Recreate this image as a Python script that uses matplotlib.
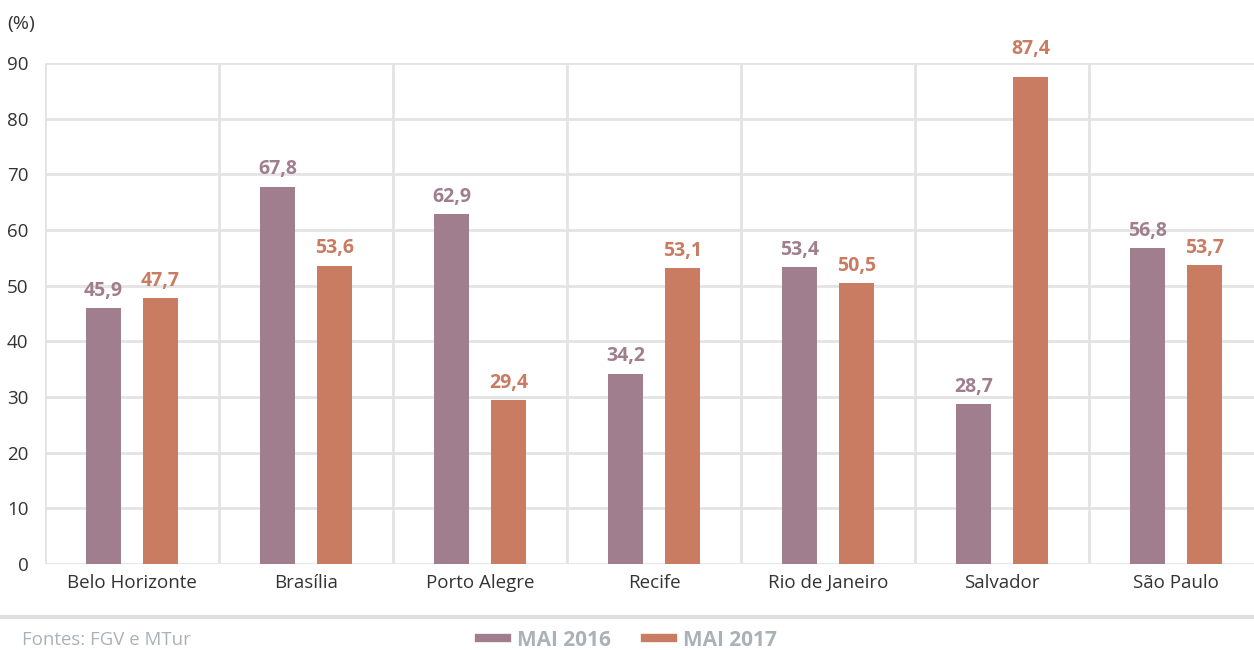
import matplotlib
matplotlib.use("Agg")
import matplotlib.pyplot as plt
from matplotlib.lines import Line2D
import numpy as np

cities = ["Belo Horizonte", "Brasília", "Porto Alegre", "Recife",
          "Rio de Janeiro", "Salvador", "São Paulo"]
mai_2016 = [45.9, 67.8, 62.9, 34.2, 53.4, 28.7, 56.8]
mai_2017 = [47.7, 53.6, 29.4, 53.1, 50.5, 87.4, 53.7]
series_names = ["MAI 2016", "MAI 2017"]

PURPLE = "#A07E8E"
ORANGE = "#C97C62"
GRID = "#E3E3E3"
TEXT = "#333333"
FOOT = "#A9B2B8"

plt.rcParams["font.family"] = ["Open Sans", "DejaVu Sans"]

W, H = 1254, 650
fig = plt.figure(figsize=(W / 100, H / 100), dpi=100)
ax = fig.add_axes([45 / W, 1 - 564 / H, (W - 45) / W, (564 - 63) / H])

x = np.arange(len(cities))
off = 0.164
bw = 0.2
ax.bar(x - off, mai_2016, bw, color=PURPLE, zorder=3)
ax.bar(x + off, mai_2017, bw, color=ORANGE, zorder=3)

for xi, v in zip(x, mai_2016):
    ax.text(xi - off, v + 1.3, f"{v:.1f}".replace(".", ","), ha="center", va="bottom",
            color=PURPLE, fontsize=14, fontweight="bold")
for xi, v in zip(x, mai_2017):
    # the top label sits a bit higher, above the plot frame
    pad = 3.3 if v > 85 else 1.3
    ax.text(xi + off, v + pad, f"{v:.1f}".replace(".", ","), ha="center", va="bottom",
            color=ORANGE, fontsize=14, fontweight="bold")

ax.set_xlim(-0.5, -0.5 + (W - 45) / 174)
ax.set_ylim(0, 90)
ax.set_yticks(range(0, 91, 10))
ax.set_xticks(x)
ax.set_xticklabels(cities)
ax.tick_params(axis="both", length=0, labelsize=13.5, colors=TEXT)
ax.tick_params(axis="x", pad=7)
ax.tick_params(axis="y", pad=12)
ax.yaxis.grid(True, color=GRID, lw=2, zorder=0)
for b in np.arange(-0.5, len(cities) + 0.5, 1):
    ax.axvline(b, color=GRID, lw=2, zorder=0)
for s in ax.spines.values():
    s.set_visible(False)

fig.text(7 / W, 1 - 24 / H, "(%)", ha="left", va="center", fontsize=14, color=TEXT)

# bottom separator line
fig.add_artist(Line2D([0, 1], [1 - 617 / H] * 2, color="#DCE0E2", lw=3))
fig.text(22 / W, 1 - 640 / H, "Fontes: FGV e MTur", ha="left", va="center",
         fontsize=13.4, color=FOOT)

handles = [Line2D([0], [0], color=PURPLE, lw=6), Line2D([0], [0], color=ORANGE, lw=6)]
leg = fig.legend(handles, series_names, loc="center", bbox_to_anchor=(628 / W, 1 - 640 / H),
                 ncol=2, frameon=False, handlelength=1.35, handletextpad=0.5,
                 columnspacing=1.6, prop={"weight": "bold", "size": 15})
for t in leg.get_texts():
    t.set_color(FOOT)

fig.savefig("out.png", dpi=100)
